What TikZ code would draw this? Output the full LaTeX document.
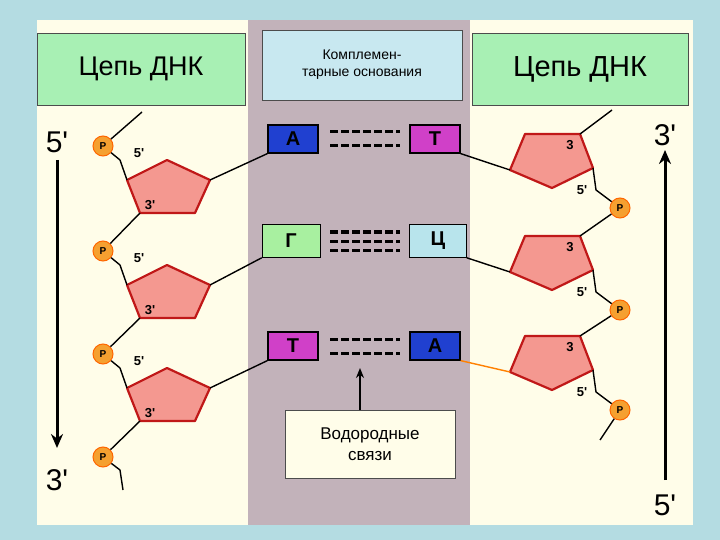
\documentclass[tikz,border=0pt]{standalone}
\usepackage{fontspec}
\setmainfont{Liberation Sans}
\usetikzlibrary{arrows.meta}
\newcommand{\pr}{\textquotesingle}
\definecolor{bgblue}{HTML}{B4DCE2}
\definecolor{cream}{HTML}{FFFDE9}
\definecolor{midgray}{HTML}{C2B2BA}
\definecolor{hdrgreen}{HTML}{A8F0B4}
\definecolor{hdrblue}{HTML}{C8E8F0}
\definecolor{pent}{HTML}{F49890}
\definecolor{pentline}{HTML}{C01818}
\definecolor{pball}{HTML}{F5A030}
\definecolor{baseA}{HTML}{2040D0}
\definecolor{baseT}{HTML}{D040C8}
\definecolor{baseG}{HTML}{A8F0A0}
\definecolor{baseC}{HTML}{B8E4EC}
\begin{document}
\begin{tikzpicture}[x=1pt,y=-1pt,
  hdr/.style={draw=black!70,line width=0.6pt,minimum height=72pt,align=center},
  pg/.style={fill=pent,draw=pentline,line width=2.2pt,line join=round},
  pb/.style={circle,fill=pball,draw=orange!80!red,line width=1pt,inner sep=0pt,minimum size=20pt,font=\bfseries},
  base/.style={draw=black,line width=1.2pt,minimum width=50pt,minimum height=28pt,font=\bfseries\fontsize{20}{20}\selectfont},
  lab/.style={font=\bfseries\fontsize{13}{13}\selectfont,inner sep=0pt},
  big/.style={font=\fontsize{30}{30}\selectfont},
  bond/.style={line width=1.4pt},
  hb/.style={line width=3pt,dash pattern=on 8pt off 3pt}]
\useasboundingbox (0,0) rectangle (720,540);
\fill[bgblue] (0,0) rectangle (720,540);
\fill[cream] (37,20) rectangle (693,525);
\fill[midgray] (248,20) rectangle (470,525);
% headers
\node[hdr,fill=hdrgreen,minimum width=208pt,font=\fontsize{27}{30}\selectfont] (h1) at (141,69) {Цепь ДНК};
\node[hdr,fill=hdrblue,minimum width=200pt,minimum height=70pt,font=\fontsize{14}{17}\selectfont] (h2) at (362,65) {Комплемен-\\тарные основания};
\node[hdr,fill=hdrgreen,minimum width=216pt,font=\fontsize{29}{30}\selectfont] (h3) at (580,69) {Цепь ДНК};
% direction arrows
\node[big] (l5) at (57,142) {5\pr};
\node[big] (l3) at (57,480) {3\pr};
\coordinate (la1) at (57,160); \coordinate (la2) at (57,448);
\draw[line width=3pt,-{Stealth[length=14pt,width=12pt]}] (la1) -- (la2);
\node[big] (r3) at (665,135) {3\pr};
\node[big] (r5) at (665,505) {5\pr};
\coordinate (ra1) at (665,480); \coordinate (ra2) at (665,150);
\draw[line width=3pt,-{Stealth[length=14pt,width=12pt]}] (ra1) -- (ra2);
% bases
\node[base,fill=baseA] (bA1) at (293,139) {А};
\node[base,fill=baseT] (bT1) at (435,139) {Т};
\node[base,fill=baseG,minimum width=58pt,minimum height=33pt,line width=0.6pt] (bG) at (291,241) {Г};
\node[base,fill=baseC,minimum width=57pt,minimum height=33pt,line width=0.6pt] (bC) at (438,241) {Ц};
\node[base,fill=baseT] (bT2) at (293,346) {Т};
\node[base,fill=baseA] (bA2) at (435,346) {А};
% hydrogen bonds
\foreach \y in {132,146}{\draw[hb] (330,\y) -- (400,\y);}
\foreach \y in {232,241,250}{\draw[hb] (330,\y) -- (400,\y);}
\foreach \y in {339,353}{\draw[hb] (330,\y) -- (400,\y);}
% left strand
\coordinate (ltop) at (142,112);
\foreach \i/\dy in {1/0,2/105,3/208}{
  \begin{scope}[yshift=-\dy]
  \coordinate (L\i a) at (167,160); \coordinate (L\i b) at (210,180);
  \coordinate (L\i c) at (195,213); \coordinate (L\i d) at (140,213);
  \coordinate (L\i e) at (127,180);
  \draw[pg] (L\i a)--(L\i b)--(L\i c)--(L\i d)--(L\i e)--cycle;
  \node[pb] (LP\i) at (103,146) {P};
  \node[lab] at (139,153) {5\pr};
  \node[lab] at (150,205) {3\pr};
  \draw[bond] (LP\i) -- (120,160) -- (L\i e);
  \end{scope}
}
\node[pb] (LP4) at (103,457) {P};
\coordinate (lbot) at (123,490);
\draw[bond] (LP4) -- (120,470) -- (lbot);
\draw[bond] (ltop) -- (LP1);
\draw[bond] (L1d) -- (LP2); \draw[bond] (L2d) -- (LP3); \draw[bond] (L3d) -- (LP4);
\draw[bond] (L1b) -- (bA1.south west);
\draw[bond] (L2b) -- (bG.south west);
\draw[bond] (L3b) -- (bT2.south west);
% right strand
\coordinate (rtop) at (612,110);
\foreach \i/\dy in {1/0,2/102,3/202}{
  \begin{scope}[yshift=-\dy]
  \coordinate (R\i a) at (525,134); \coordinate (R\i b) at (580,134);
  \coordinate (R\i c) at (593,168); \coordinate (R\i d) at (552,188);
  \coordinate (R\i e) at (510,170);
  \draw[pg] (R\i a)--(R\i b)--(R\i c)--(R\i d)--(R\i e)--cycle;
  \node[pb] (RP\i) at (620,208) {P};
  \node[lab] at (570,145) {3};
  \node[lab] at (582,190) {5\pr};
  \draw[bond] (R\i c) -- (596,190) -- (RP\i);
  \end{scope}
}
\draw[bond] (R1b) -- (rtop);
\draw[bond] (RP1) -- (R2b); \draw[bond] (RP2) -- (R3b);
\coordinate (rbot) at (600,440);
\draw[bond] (RP3) -- (rbot);
\draw[bond] (bT1.south east) -- (R1e);
\draw[bond] (bC.south east) -- (R2e);
\draw[bond,orange] (bA2.south east) -- (R3e);
% label box
\node[draw=black!70,fill=cream,minimum width=170pt,minimum height=68pt,align=center,font=\fontsize{17}{21}\selectfont] (hbox) at (370,444) {Водородные\\связи};
\coordinate (arrtip) at (360,368);
\draw[line width=1.8pt,-{Stealth[length=10pt,width=8pt]}] (360,410) -- (arrtip);
\end{tikzpicture}
\end{document}
